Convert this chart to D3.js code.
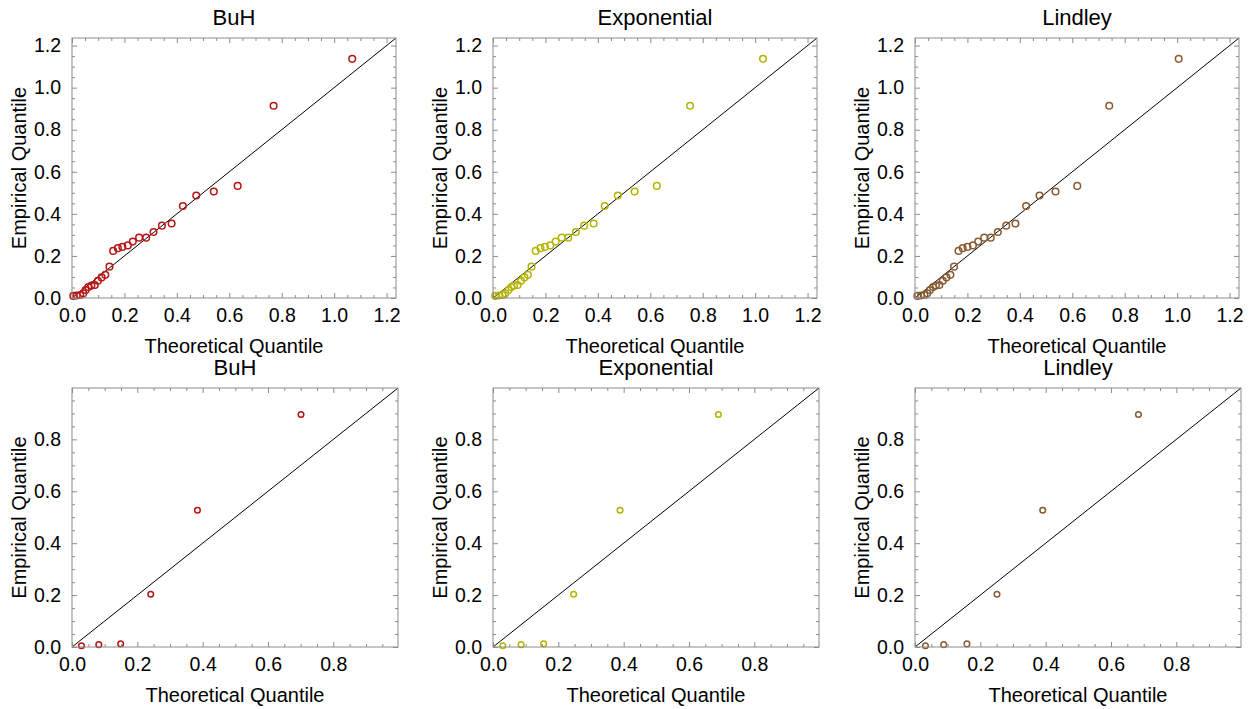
<!DOCTYPE html>
<html>
<head>
<meta charset="utf-8">
<script src="https://cdn.jsdelivr.net/npm/d3@7"></script>
<style>
  html, body { margin: 0; padding: 0; background: #fff; }
  svg { display: block; font-family: "Liberation Sans", Arial, sans-serif; }
</style>
</head>
<body>
<svg id="chart" width="1251" height="709"></svg>
<script>
// ---- Data ----
const models = ["BuH", "Exponential", "Lindley"];
const modelColors = ["#b81414", "#b4b400", "#875a30"];

// Top row: empirical quantiles (sorted)
const topEmpirical = [0.010, 0.012, 0.014, 0.022, 0.038, 0.052, 0.059, 0.062, 0.082, 0.098,
  0.110, 0.149, 0.224, 0.237, 0.243, 0.250, 0.268, 0.287, 0.287, 0.314,
  0.344, 0.354, 0.437, 0.487, 0.506, 0.533, 0.914, 1.137];
const topBuH = [0.005, 0.018, 0.031, 0.043, 0.052, 0.062, 0.074, 0.087, 0.099, 0.113,
  0.127, 0.143, 0.157, 0.175, 0.192, 0.213, 0.232, 0.256, 0.283, 0.311,
  0.343, 0.380, 0.423, 0.474, 0.541, 0.632, 0.769, 1.069];
const topExponential = [0.008, 0.022, 0.036, 0.047, 0.059, 0.070, 0.080, 0.094, 0.107, 0.120,
  0.133, 0.147, 0.163, 0.181, 0.198, 0.219, 0.239, 0.262, 0.287, 0.316,
  0.348, 0.384, 0.426, 0.476, 0.540, 0.625, 0.752, 1.030];
const topLindley = [0.009, 0.023, 0.036, 0.047, 0.057, 0.069, 0.080, 0.093, 0.106, 0.120,
  0.135, 0.149, 0.166, 0.182, 0.200, 0.221, 0.241, 0.264, 0.289, 0.316,
  0.348, 0.383, 0.424, 0.475, 0.536, 0.619, 0.741, 1.006];

// Bottom row
const bottomEmpirical = [0.005, 0.009, 0.012, 0.203, 0.527, 0.896];
const bottomBuH = [0.029, 0.082, 0.149, 0.241, 0.384, 0.701];
const bottomExponential = [0.030, 0.086, 0.155, 0.247, 0.389, 0.690];
const bottomLindley = [0.032, 0.088, 0.159, 0.251, 0.391, 0.684];

const topTicks = [0, 0.2, 0.4, 0.6, 0.8, 1.0, 1.2];
const bottomTicks = [0, 0.2, 0.4, 0.6, 0.8];
const xLabel = "Theoretical Quantile";
const yLabel = "Empirical Quantile";

// ---- Layout ----
const svg = d3.select("#chart");
const colLefts = [72, 493, 915];
const rows = [
  { top: 38, width: 324, height: 260, max: 1.236, ticks: topTicks, r: 3.3,
    emp: topEmpirical, theo: [topBuH, topExponential, topLindley] },
  { top: 388, width: 326, height: 259, max: 0.998, ticks: bottomTicks, r: 2.8,
    emp: bottomEmpirical, theo: [bottomBuH, bottomExponential, bottomLindley] }
];
const frameColor = "#8c8c8c";
const fmt = d3.format(".1f");

rows.forEach((row, ri) => {
  models.forEach((m, ci) => {
    const left = colLefts[ci];
    const g = svg.append("g").attr("transform", `translate(${left},${row.top})`);
    const x = d3.scaleLinear().domain([0, row.max]).range([0, row.width]);
    const y = d3.scaleLinear().domain([0, row.max]).range([row.height, 0]);
    const minor = d3.range(0, row.max + 1e-9, 0.05).filter(v => Math.abs(v / 0.2 - Math.round(v / 0.2)) > 1e-6);

    const clipId = `clip-${ri}-${ci}`;
    g.append("clipPath").attr("id", clipId)
      .append("rect").attr("width", row.width).attr("height", row.height);

    // diagonal reference line
    g.append("line")
      .attr("clip-path", `url(#${clipId})`)
      .attr("x1", x(0)).attr("y1", y(0))
      .attr("x2", x(row.max)).attr("y2", y(row.max))
      .attr("stroke", "#000").attr("stroke-width", 1);

    // points
    const pts = row.theo[ci].map((t, i) => [t, row.emp[i]]);
    g.append("g").selectAll("circle").data(pts).join("circle")
      .attr("cx", d => x(d[0])).attr("cy", d => y(d[1]))
      .attr("r", row.r)
      .attr("fill", "none")
      .attr("stroke", modelColors[ci])
      .attr("stroke-width", 1.5);

    // axes: major and minor ticks, inward, on all four sides
    function styleAxis(sel) {
      sel.select(".domain").remove();
      sel.selectAll(".tick line").attr("stroke", frameColor);
      sel.selectAll(".tick text").attr("fill", "#000").style("font-size", "19.5px")
        .style("font-family", '"Liberation Sans", Arial, sans-serif');
    }
    const axB = g.append("g").attr("transform", `translate(0,${row.height})`)
      .call(d3.axisBottom(x).tickValues(row.ticks).tickFormat(fmt).tickSizeInner(-5).tickPadding(12));
    styleAxis(axB);
    axB.selectAll(".tick text").attr("dy", "0.71em").attr("y", 10);
    const axBm = g.append("g").attr("transform", `translate(0,${row.height})`)
      .call(d3.axisBottom(x).tickValues(minor).tickFormat("").tickSizeInner(-3));
    styleAxis(axBm);
    const axT = g.append("g")
      .call(d3.axisTop(x).tickValues(row.ticks).tickFormat("").tickSizeInner(-5));
    styleAxis(axT);
    const axTm = g.append("g")
      .call(d3.axisTop(x).tickValues(minor).tickFormat("").tickSizeInner(-3));
    styleAxis(axTm);

    const axL = g.append("g")
      .call(d3.axisLeft(y).tickValues(row.ticks).tickFormat(fmt).tickSizeInner(-5).tickPadding(11));
    styleAxis(axL);
    const axLm = g.append("g")
      .call(d3.axisLeft(y).tickValues(minor).tickFormat("").tickSizeInner(-3));
    styleAxis(axLm);
    const axR = g.append("g").attr("transform", `translate(${row.width},0)`)
      .call(d3.axisRight(y).tickValues(row.ticks).tickFormat("").tickSizeInner(-5));
    styleAxis(axR);
    const axRm = g.append("g").attr("transform", `translate(${row.width},0)`)
      .call(d3.axisRight(y).tickValues(minor).tickFormat("").tickSizeInner(-3));
    styleAxis(axRm);

    // frame
    g.append("rect")
      .attr("x", 0).attr("y", 0).attr("width", row.width).attr("height", row.height)
      .attr("fill", "none").attr("stroke", frameColor).attr("stroke-width", 1);

    // title
    g.append("text")
      .attr("x", row.width / 2).attr("y", -13)
      .attr("text-anchor", "middle")
      .style("font-size", "22px")
      .text(m);

    // x label
    g.append("text")
      .attr("x", row.width / 2).attr("y", row.height + 55)
      .attr("text-anchor", "middle")
      .style("font-size", "20px")
      .text(xLabel);

    // y label
    g.append("text")
      .attr("transform", `translate(-46,${row.height / 2}) rotate(-90)`)
      .attr("text-anchor", "middle")
      .style("font-size", "20px")
      .text(yLabel);
  });
});
</script>
</body>
</html>
